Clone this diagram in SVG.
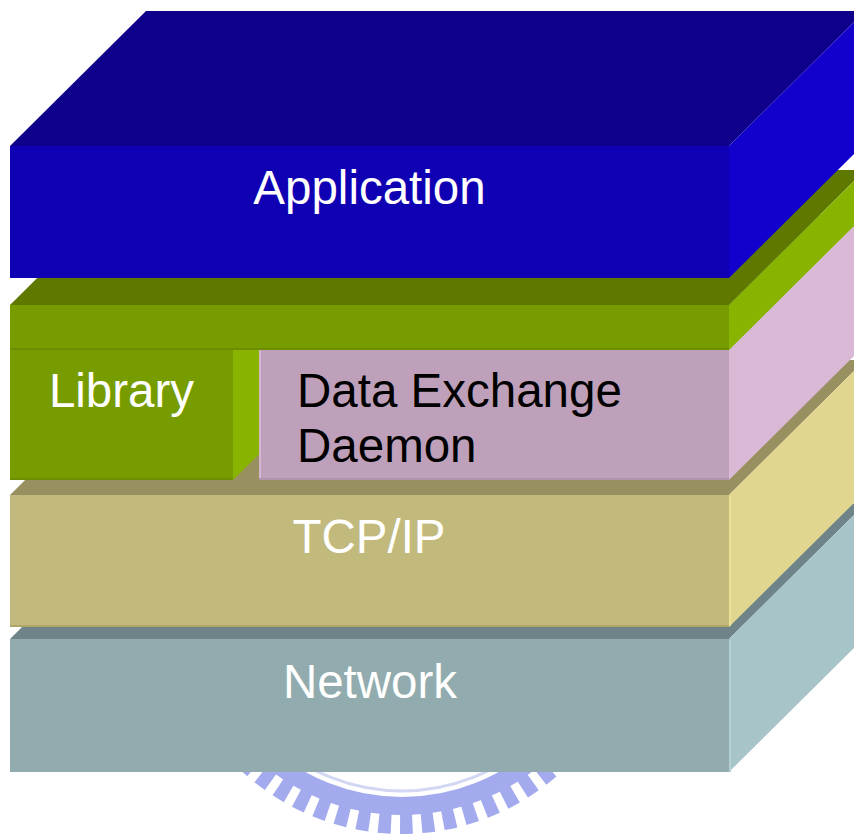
<svg xmlns="http://www.w3.org/2000/svg" width="854" height="834" viewBox="0 0 854 834">
  <style>
    .lbl { font-family: "Liberation Sans", Arial, sans-serif; font-size: 47.5px; }
    .w { fill: #ffffff; }
    .k { fill: #000000; }
    .mid { text-anchor: middle; }
    .app-top { fill: #0e008a; }
    .app-front { fill: #1000b4; }
    .app-side { fill: #1200cc; }
    .lib-top { fill: #5e7800; }
    .lib-front { fill: #779c00; }
    .lib-side { fill: #88b400; }
    .dx-top { fill: #a88ca4; }
    .dx-front { fill: #bea0ba; }
    .dx-side { fill: #d9b9d5; }
    .tcp-top { fill: #989060; }
    .tcp-front { fill: #c2ba7c; }
    .tcp-side { fill: #e0d690; }
    .net-top { fill: #6f8488; }
    .net-front { fill: #91abae; }
    .net-side { fill: #a7c4c8; }
    .seal { fill: none; stroke: #a3abee; }
  </style>
  <defs>
    <clipPath id="daemonClip">
      <rect x="259" y="350" width="470" height="112"/>
    </clipPath>
    <filter id="soft" x="-10%" y="-10%" width="120%" height="120%">
      <feGaussianBlur stdDeviation="0.7"/>
    </filter>
  </defs>

  <!-- emblem behind the stack -->
  <g id="emblem" filter="url(#soft)">
    <circle cx="402" cy="598" r="193" fill="none" stroke="#d2d8f4" stroke-width="3"/>
    <circle class="seal" cx="402" cy="598" r="208" stroke-width="18"/>
    <circle class="seal" cx="402" cy="598" r="226" stroke-width="20" stroke-dasharray="12.5 9.02"/>
  </g>

  <!-- bottom layer -->
  <g id="network">
    <polygon class="net-top" points="10,639 146,504 865,504 729,639"/>
    <rect class="net-front" x="10" y="639" width="719" height="133"/>
    <polygon class="net-side" points="729,639 865,504 865,637 729,772"/>
    <line x1="730" y1="640" x2="730" y2="772" stroke="#b4d0d2" stroke-width="2"/>
    <text class="lbl w mid" x="370" y="698">Network</text>
  </g>

  <g id="tcpip">
    <polygon class="tcp-top" points="10,495 146,360 865,360 729,495"/>
    <rect class="tcp-front" x="10" y="495" width="719" height="132"/>
    <polygon class="tcp-side" points="729,495 865,360 865,492 729,627"/>
    <line x1="10" y1="626" x2="729" y2="626" stroke="#b0a66a" stroke-width="2"/>
    <line x1="730" y1="496" x2="730" y2="626" stroke="#ece294" stroke-width="2"/>
    <text class="lbl w mid" x="369" y="553">TCP/IP</text>
  </g>

  <g id="library">
    <polygon class="lib-top" points="10,350 146,215 369,215 233,350"/>
    <rect class="lib-front" x="10" y="350" width="223" height="130"/>
    <polygon class="lib-side" points="233,350 369,215 369,345 233,480"/>
    <line x1="10" y1="479" x2="233" y2="479" stroke="#6c8e00" stroke-width="2"/>
    <text class="lbl w mid" x="121.5" y="407">Library</text>
  </g>

  <g id="daemon">
    <polygon class="dx-top" points="259,350 395,215 865,215 729,350"/>
    <rect class="dx-front" x="259" y="350" width="470" height="130"/>
    <polygon class="dx-side" points="729,350 865,215 865,345 729,480"/>
    <line x1="260" y1="350" x2="260" y2="480" stroke="#d4b6d0" stroke-width="2"/>
    <line x1="259" y1="479" x2="729" y2="479" stroke="#b094ac" stroke-width="2"/>
    <g clip-path="url(#daemonClip)">
      <text class="lbl k" x="297" y="407">Data Exchange</text>
      <text class="lbl k" x="297" y="462">Daemon</text>
    </g>
  </g>

  <g id="library-bar">
    <polygon class="lib-top" points="10,305 146,170 865,170 729,305"/>
    <rect class="lib-front" x="10" y="305" width="719" height="45"/>
    <polygon class="lib-side" points="729,305 865,170 865,215 729,350"/>
    <line x1="10" y1="349" x2="729" y2="349" stroke="#6c8e00" stroke-width="2"/>
  </g>

  <!-- top layer -->
  <g id="application">
    <polygon class="app-top" points="10,146 146,11 865,11 729,146"/>
    <rect class="app-front" x="10" y="146" width="719" height="132"/>
    <polygon class="app-side" points="729,146 865,11 865,143 729,278"/>
    <text class="lbl w mid" x="369.5" y="204">Application</text>
  </g>
</svg>
